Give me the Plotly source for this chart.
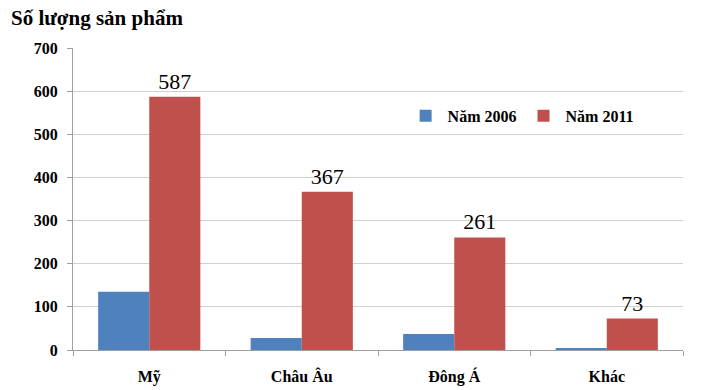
import plotly.graph_objects as go

categories = ["Mỹ", "Châu Âu", "Đông Á", "Khác"]
values_2006 = [135, 28, 37, 4]
values_2011 = [587, 367, 261, 73]
series_names = ["Năm 2006", "Năm 2011"]
y_ticks = [0, 100, 200, 300, 400, 500, 600, 700]

serif = "Liberation Serif"

fig = go.Figure()
fig.add_trace(go.Bar(x=categories, y=values_2006, name=series_names[0],
                     marker=dict(color="#4F81BD", line=dict(width=0))))
fig.add_trace(go.Bar(x=categories, y=values_2011, name=series_names[1],
                     marker=dict(color="#C0504D", line=dict(width=0)),
                     text=[str(v) for v in values_2011], textposition="outside",
                     textfont=dict(family=serif, size=22, color="black"),
                     cliponaxis=False))

fig.update_layout(
    width=704, height=390,
    margin=dict(l=73, r=21, t=48, b=40),
    paper_bgcolor="white", plot_bgcolor="white",
    barmode="group", bargap=0.33, bargroupgap=0,
    font=dict(family=serif, color="black"),
    showlegend=True,
    legend=dict(orientation="h", x=0.542, y=0.775, xanchor="left", yanchor="middle",
                font=dict(family=serif, size=16, color="black", weight="bold"),
                itemwidth=34, traceorder="normal", bgcolor="rgba(0,0,0,0)"),
    annotations=[dict(text="Số lượng sản phẩm", xref="paper", yref="paper",
                      x=-0.105, y=1 + 30 / 302, xanchor="left", yanchor="middle", showarrow=False,
                      font=dict(family=serif, size=21, color="black", weight="bold"))],
)
fig.update_yaxes(range=[0, 700], tickvals=y_ticks,
                 tickfont=dict(family=serif, size=16, color="black", weight="bold"),
                 showgrid=True, gridcolor="#D0D0D0", gridwidth=1,
                 showline=True, linecolor="#A0A0A0", linewidth=1,
                 ticks="outside", ticklen=5, tickcolor="#A0A0A0",
                 ticklabelstandoff=6,
                 zeroline=False, automargin=False)
fig.update_xaxes(tickfont=dict(family=serif, size=16, color="black", weight="bold"),
                 showline=True, linecolor="#A0A0A0", linewidth=1,
                 ticks="outside", ticklen=5, tickcolor="#A0A0A0",
                 tickson="boundaries", ticklabelstandoff=12, automargin=False)

fig.write_html("out.html")
